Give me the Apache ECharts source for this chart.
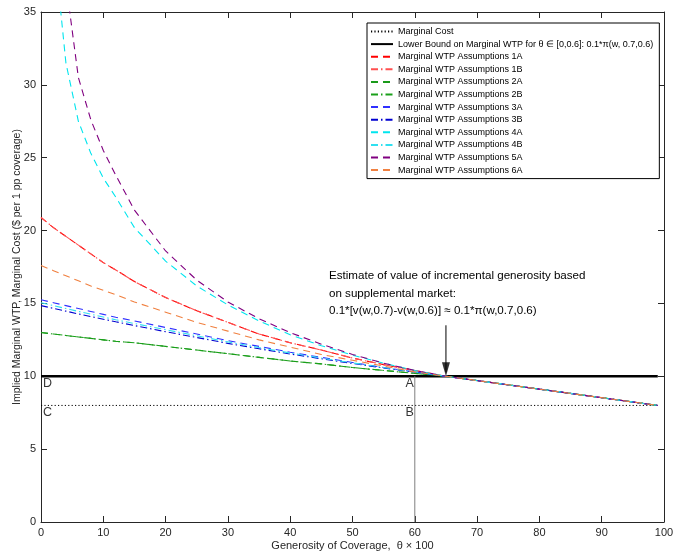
<!DOCTYPE html>
<html>
<head>
<meta charset="utf-8">
<script src="https://cdn.jsdelivr.net/npm/echarts@6/dist/echarts.min.js"></script>
<style>
  html, body { margin: 0; padding: 0; background: #fff; }
  #chart { width: 676px; height: 554px; }
</style>
</head>
<body>
<div id="chart"></div>
<script>
// generosity grid (theta x 100) shared by all WTP curves
const theta = [0, 2, 4, 6, 8, 10, 12, 15, 20, 25, 30, 35, 40, 45, 50, 55, 60, 65, 99]

const wtp1A = [20.9, 20.2, 19.6, 19.0, 18.4, 17.8, 17.3, 16.5, 15.4, 14.5, 13.7, 12.9, 12.3, 11.8, 11.25, 10.8, 10.4, 10.0, 8.0]
const wtp1B = [20.9, 20.2, 19.6, 19.0, 18.4, 17.8, 17.3, 16.5, 15.4, 14.5, 13.7, 12.9, 12.3, 11.8, 11.25, 10.8, 10.4, 10.0, 8.0]
const wtp2A = [13.0, 12.9, 12.8, 12.7, 12.6, 12.5, 12.4, 12.3, 12.05, 11.8, 11.55, 11.3, 11.05, 10.85, 10.6, 10.4, 10.2, 10.0, 8.0]
const wtp2B = [13.0, 12.9, 12.8, 12.7, 12.6, 12.5, 12.4, 12.3, 12.05, 11.8, 11.55, 11.3, 11.05, 10.85, 10.6, 10.4, 10.2, 10.0, 8.0]
const wtp3A = [15.25, 15.05, 14.85, 14.65, 14.45, 14.25, 14.05, 13.8, 13.35, 12.9, 12.45, 12.05, 11.65, 11.3, 10.95, 10.6, 10.3, 10.0, 8.0]
const wtp3B = [14.85, 14.66, 14.47, 14.28, 14.1, 13.92, 13.74, 13.48, 13.06, 12.66, 12.26, 11.89, 11.53, 11.2, 10.88, 10.57, 10.28, 10.0, 8.0]
const wtp4A = [50, 40, 31.5, 27.5, 25.3, 23.6, 22.3, 20.2, 17.9, 16.2, 14.9, 13.8, 12.85, 12.1, 11.45, 10.9, 10.4, 10.0, 8.0]
const wtp4B = [15.05, 14.85, 14.65, 14.45, 14.26, 14.07, 13.88, 13.62, 13.2, 12.78, 12.36, 11.97, 11.6, 11.25, 10.92, 10.6, 10.3, 10.0, 8.0]
const wtp5A = [60, 48, 37, 30.5, 27.6, 25.5, 23.8, 21.4, 18.6, 16.6, 15.1, 13.95, 13.0, 12.2, 11.5, 10.9, 10.4, 10.0, 8.0]
const wtp6A = [17.6, 17.25, 16.9, 16.55, 16.2, 15.9, 15.6, 15.1, 14.4, 13.7, 13.1, 12.5, 12.0, 11.5, 11.1, 10.7, 10.3, 10.0, 8.0]

// flat reference lines
const flatX = [0, 99]
const marginalCost = [8, 8]
const lowerBound = [10, 10]

// vertical marker at theta = 0.6 and the arrow at 0.65
const markerX = [60, 60]
const markerY = [0, 10]
const arrowX = [65, 65]
const arrowY = [13.5, 10.3]

const xTicks = [0, 10, 20, 30, 40, 50, 60, 70, 80, 90, 100]
const yTicks = [0, 5, 10, 15, 20, 25, 30, 35]

const pointLabels = [
  { name: 'D', x: 0, y: 10 },
  { name: 'C', x: 0, y: 8 },
  { name: 'A', x: 60, y: 10 },
  { name: 'B', x: 60, y: 8 }
]

const annotation = [
  'Estimate of value of incremental generosity based',
  'on supplemental market:',
  '0.1*[v(w,0.7)-v(w,0.6)] \u2248 0.1*\u03c0(w,0.7,0.6)'
]

const zip = (xs, ys) => xs.map((x, i) => [x, ys[i]])

const curves = [
  { name: 'Marginal WTP Assumptions 1A', data: wtp1A, color: '#ff0000', dash: [7, 5] },
  { name: 'Marginal WTP Assumptions 1B', data: wtp1B, color: '#ff5050', dash: [7, 3, 1.5, 3] },
  { name: 'Marginal WTP Assumptions 2A', data: wtp2A, color: '#1a9a1a', dash: [7, 5] },
  { name: 'Marginal WTP Assumptions 2B', data: wtp2B, color: '#1aa01a', dash: [7, 3, 1.5, 3] },
  { name: 'Marginal WTP Assumptions 3A', data: wtp3A, color: '#3030ff', dash: [7, 5] },
  { name: 'Marginal WTP Assumptions 3B', data: wtp3B, color: '#0000d0', dash: [7, 3, 1.5, 3] },
  { name: 'Marginal WTP Assumptions 4A', data: wtp4A, color: '#00e5ee', dash: [7, 5] },
  { name: 'Marginal WTP Assumptions 4B', data: wtp4B, color: '#30e0f0', dash: [7, 3, 1.5, 3] },
  { name: 'Marginal WTP Assumptions 5A', data: wtp5A, color: '#800080', dash: [7, 5] },
  { name: 'Marginal WTP Assumptions 6A', data: wtp6A, color: '#f08040', dash: [7, 5] }
]

const axisColor = '#262626'
const fontFamily = '"Liberation Sans", Arial, sans-serif'

const chart = echarts.init(document.getElementById('chart'), null, { renderer: 'canvas' })

const baseX = {
  type: 'value',
  min: xTicks[0],
  max: xTicks[xTicks.length - 1],
  interval: 10,
  splitLine: { show: false },
  axisLine: { onZero: false, lineStyle: { color: axisColor, width: 1 } },
  axisTick: { inside: true, length: 6, lineStyle: { color: axisColor } }
}
const baseY = {
  type: 'value',
  min: yTicks[0],
  max: yTicks[yTicks.length - 1],
  interval: 5,
  splitLine: { show: false },
  axisLine: { onZero: false, lineStyle: { color: axisColor, width: 1 } },
  axisTick: { inside: true, length: 6, lineStyle: { color: axisColor } }
}

const lineSeries = (name, data, color, width, type) => ({
  name,
  type: 'line',
  data,
  symbol: 'none',
  silent: true,
  animation: false,
  lineStyle: { color, width, type },
  itemStyle: { color }
})

const series = [
  lineSeries('Marginal Cost', zip(flatX, marginalCost), '#000', 1, [1.2, 2.2]),
  lineSeries('Lower Bound on Marginal WTP for \u03b8 \u2208 [0,0.6]: 0.1*\u03c0(w, 0.7,0.6)', zip(flatX, lowerBound), '#000', 2.5, 'solid'),
  ...curves.map(c => lineSeries(c.name, zip(theta, c.data), c.color, 1.1, c.dash)),
  lineSeries('marker', zip(markerX, markerY), '#7f7f7f', 1, 'solid'),
  lineSeries('arrow', zip(arrowX, arrowY), '#000', 1, 'solid'),
  {
    name: 'arrowHead',
    type: 'scatter',
    data: [[arrowX[1], arrowY[1] - 0.3]],
    symbol: 'triangle',
    symbolRotate: 180,
    symbolSize: [8, 14],
    symbolOffset: [0, '-50%'],
    itemStyle: { color: '#000' },
    silent: true,
    animation: false
  },
  {
    name: 'points',
    type: 'scatter',
    symbolSize: 0,
    silent: true,
    animation: false,
    data: pointLabels.map(p => ({
      value: [p.x, p.y],
      label: {
        show: true,
        formatter: p.name,
        position: p.x === 0 ? [2, 7] : [-1, 7],
        align: p.x === 0 ? 'left' : 'right',
        verticalAlign: 'middle',
        fontSize: 12.5,
        color: '#000',
        fontFamily
      }
    }))
  }
]

const option = {
  animation: false,
  backgroundColor: '#fff',
  grid: { left: 41, right: 12, top: 12, bottom: 32, outerBoundsMode: 'none', containLabel: false },
  legend: {
    orient: 'vertical',
    left: 367,
    top: 23,
    data: series.slice(0, 12).map(s => s.name),
    selectedMode: false,
    backgroundColor: '#fff',
    borderColor: '#000',
    borderWidth: 1,
    borderRadius: 0,
    padding: [3, 6, 3, 3],
    itemWidth: 22,
    itemHeight: 8,
    itemGap: 1.6,
    itemStyle: { opacity: 0 },
    textStyle: { fontSize: 9, lineHeight: 11, color: '#000', fontFamily }
  },
  xAxis: [
    {
      ...baseX,
      position: 'bottom',
      name: 'Generosity of Coverage,  \u03b8 \u00d7 100',
      nameLocation: 'middle',
      nameGap: 18,
      nameMoveOverlap: false,
      nameTextStyle: { fontSize: 11, color: axisColor, fontFamily },
      axisLabel: { fontSize: 11, color: axisColor, margin: 5, fontFamily }
    },
    { ...baseX, position: 'top', axisLabel: { show: false } }
  ],
  yAxis: [
    {
      ...baseY,
      position: 'left',
      name: 'Implied Marginal WTP, Marginal Cost ($ per 1 pp coverage)',
      nameLocation: 'middle',
      nameGap: 18,
      nameMoveOverlap: false,
      nameTextStyle: { fontSize: 10.5, color: axisColor, fontFamily },
      axisLabel: { fontSize: 11, color: axisColor, margin: 5, fontFamily }
    },
    { ...baseY, position: 'right', axisLabel: { show: false } }
  ],
  graphic: annotation.map((line, i) => ({
    type: 'text',
    left: 329,
    top: 270 + i * 17.5,
    silent: true,
    style: { text: line, fontSize: 11.6, fill: '#000', fontFamily }
  })),
  series
}

chart.setOption(option)
</script>
</body>
</html>
